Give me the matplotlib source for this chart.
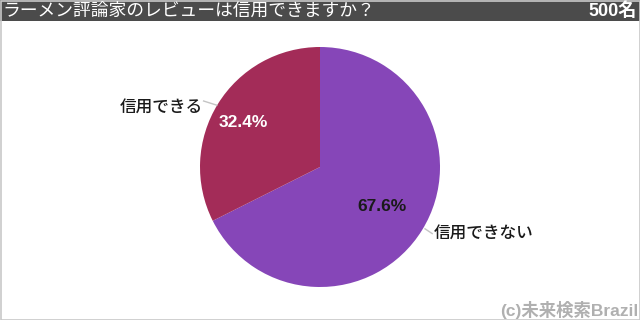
import matplotlib.pyplot as plt
from matplotlib.patches import Rectangle

plt.rcParams['font.family'] = ['Noto Sans CJK JP', 'DejaVu Sans']
latin = ['Liberation Sans', 'Noto Sans CJK JP']

# Data
title = 'ラーメン評論家のレビューは信用できますか？'
sample = '500名'
labels = ['信用できない', '信用できる']
shares = [67.6, 32.4]
colors = ['#8646b8', '#a32c58']
credit = '(c)未来検索Brazil'

fig = plt.figure(figsize=(6.4, 3.2), dpi=100)
fig.patch.set_facecolor('white')

# Header bar and frame
fig.patches.append(Rectangle((0, 1 - 21 / 320), 1, 21 / 320, transform=fig.transFigure,
                             facecolor='#4b4b4b', edgecolor='none', zorder=0))
fig.patches.append(Rectangle((0.5 / 640, 0.5 / 320), 1 - 1 / 640, 1 - 1 / 320,
                             transform=fig.transFigure, facecolor='none',
                             edgecolor='#c8c8c8', linewidth=1.2, zorder=0))
fig.text(2 / 640, 1 - 11 / 320, title, color='white', fontsize=12.8,
         va='center', ha='left')
fig.text(637 / 640, 1 - 11 / 320, sample, color='white', fontsize=13,
         fontweight='bold', family=latin, va='center', ha='right')

# Pie
ax = fig.add_axes([200 / 640, (320 - 287) / 320, 240 / 640, 240 / 320])
wedges, _ = ax.pie(shares, colors=colors, startangle=90, counterclock=False,
                   wedgeprops=dict(edgecolor='none'))
ax.set_aspect('equal')
ax.set_xlim(-1, 1)
ax.set_ylim(-1, 1)
ax.axis('off')

# Percent labels
ax.text(0.515, -0.33, f'{shares[0]}%', color='#1a1a1a', fontsize=12.5,
        fontweight='bold', family=latin, ha='center', va='center')
ax.text(-0.64, 0.37, f'{shares[1]}%', color='white', fontsize=12.5,
        fontweight='bold', family=latin, ha='center', va='center')

# Category labels with short leader lines
ax.plot([0.875, 0.935], [-0.515, -0.555], color='#c4c4c4', lw=1, clip_on=False)
ax.text(0.945, -0.55, labels[0], color='#1a1a1a', fontsize=12,
        fontweight='medium', ha='left', va='center', clip_on=False)
ax.plot([-0.86, -0.97], [0.515, 0.55], color='#c4c4c4', lw=1, clip_on=False)
ax.text(-0.975, 0.5, labels[1], color='#1a1a1a', fontsize=12,
        fontweight='medium', ha='right', va='center', clip_on=False)

fig.text(638 / 640, 10 / 320, credit, color='#b0b0b0', fontsize=12.5,
         fontweight='bold', family=latin, ha='right', va='center')

fig.savefig('out.png', dpi=100, facecolor='white')
